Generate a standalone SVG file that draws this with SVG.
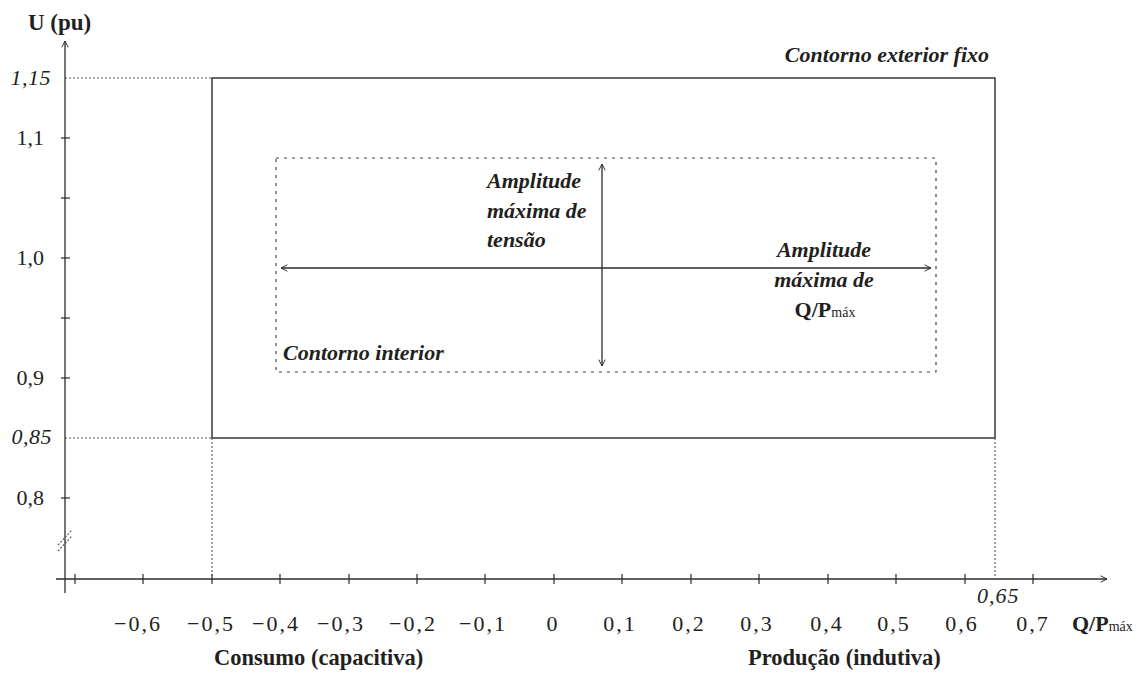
<svg xmlns="http://www.w3.org/2000/svg" width="1143" height="675" viewBox="0 0 1143 675">
<defs>
<style>
.ax{stroke:#2b2b2b;stroke-width:1.3;fill:none}
.tk{stroke:#2b2b2b;stroke-width:1.2}
.ol{stroke:#2b2b2b;stroke-width:1.4;fill:none}
.dot{stroke:#555;stroke-width:1.1;stroke-dasharray:2 2;fill:none}
.inr{stroke:#444;stroke-width:1.2;stroke-dasharray:3 5;fill:none}
.arr{stroke:#2b2b2b;stroke-width:1.3;fill:none}
.t{font-family:"Liberation Serif",serif;fill:#231f20}
.yl{font-size:22px}
.yi{font-size:22px;font-style:italic;letter-spacing:0.5px}
.xl{font-size:22px;letter-spacing:2px;text-anchor:middle}
.b{font-weight:bold}
.bi{font-weight:bold;font-style:italic;font-size:22px}
</style>
<marker id="ah" viewBox="0 0 10 10" refX="9" refY="5" markerWidth="8" markerHeight="8" orient="auto-start-reverse" markerUnits="userSpaceOnUse">
<path d="M1,1 L9,5 L1,9" stroke="#2b2b2b" stroke-width="1.2" fill="none"/>
</marker>
</defs>
<rect width="1143" height="675" fill="#fff"/>

<g id="axes">
<line class="ax" x1="65" y1="593" x2="65" y2="41" marker-end="url(#ah)"/>
<line class="ax" x1="56" y1="579" x2="1107" y2="579" marker-end="url(#ah)"/>
<g class="tk">
<line x1="61" y1="138" x2="70" y2="138"/>
<line x1="61" y1="198" x2="70" y2="198"/>
<line x1="61" y1="258" x2="70" y2="258"/>
<line x1="61" y1="318" x2="70" y2="318"/>
<line x1="61" y1="378" x2="70" y2="378"/>
<line x1="61" y1="498" x2="70" y2="498"/>
<line x1="75" y1="574" x2="75" y2="584"/>
<line x1="143" y1="574" x2="143" y2="584"/>
<line x1="212" y1="574" x2="212" y2="584"/>
<line x1="280" y1="574" x2="280" y2="584"/>
<line x1="349" y1="574" x2="349" y2="584"/>
<line x1="417" y1="574" x2="417" y2="584"/>
<line x1="485" y1="574" x2="485" y2="584"/>
<line x1="554" y1="574" x2="554" y2="584"/>
<line x1="622" y1="574" x2="622" y2="584"/>
<line x1="691" y1="574" x2="691" y2="584"/>
<line x1="759" y1="574" x2="759" y2="584"/>
<line x1="828" y1="574" x2="828" y2="584"/>
<line x1="896" y1="574" x2="896" y2="584"/>
<line x1="965" y1="574" x2="965" y2="584"/>
<line x1="1033" y1="574" x2="1033" y2="584"/>
</g>
<g stroke="#555" stroke-width="1.1" stroke-dasharray="2 1.5">
<line x1="58" y1="545" x2="72" y2="530"/>
<line x1="58" y1="551" x2="72" y2="536"/>
</g>
</g>

<g id="outer-contour">
<rect class="ol" x="212" y="78" width="783" height="360"/>
<line class="dot" x1="65" y1="78" x2="212" y2="78"/>
<line class="dot" x1="65" y1="438" x2="212" y2="438"/>
<line class="dot" x1="212" y1="438" x2="212" y2="579"/>
<line class="dot" x1="995" y1="438" x2="995" y2="579"/>
<text class="t bi" x="989" y="62" text-anchor="end">Contorno exterior fixo</text>
</g>

<g id="inner-contour">
<rect class="inr" x="276" y="158" width="660" height="214"/>
<text class="t bi" x="283" y="360">Contorno interior</text>
</g>

<g id="connectors">
<line class="arr" x1="281" y1="268" x2="931" y2="268" marker-start="url(#ah)" marker-end="url(#ah)"/>
<line class="arr" x1="602" y1="164" x2="602" y2="366" marker-start="url(#ah)" marker-end="url(#ah)"/>
</g>

<g id="label-voltage">
<text class="t bi" x="487" y="188">Amplitude</text>
<text class="t bi" x="487" y="218">máxima de</text>
<text class="t bi" x="487" y="247">tensão</text>
</g>

<g id="label-q">
<text class="t bi" x="824" y="257" text-anchor="middle">Amplitude</text>
<text class="t bi" x="824" y="287" text-anchor="middle">máxima de</text>
<text class="t" x="825" y="317" text-anchor="middle"><tspan class="b" font-size="22">Q/P</tspan><tspan font-size="14">máx</tspan></text>
</g>

<g id="y-labels">
<text class="t b" x="28" y="30" font-size="23">U (pu)</text>
<text class="t yi" x="51" y="85" text-anchor="end">1,15</text>
<text class="t yl" x="44" y="145" text-anchor="end">1,1</text>
<text class="t yl" x="44" y="265" text-anchor="end">1,0</text>
<text class="t yl" x="44" y="385" text-anchor="end">0,9</text>
<text class="t yi" x="52" y="444" text-anchor="end">0,85</text>
<text class="t yl" x="44" y="505" text-anchor="end">0,8</text>
</g>

<g id="x-labels">
<text class="t xl" x="138" y="631">−0,6</text>
<text class="t xl" x="211" y="631">−0,5</text>
<text class="t xl" x="276" y="631">−0,4</text>
<text class="t xl" x="341" y="631">−0,3</text>
<text class="t xl" x="413" y="631">−0,2</text>
<text class="t xl" x="483" y="631">−0,1</text>
<text class="t xl" x="553" y="631">0</text>
<text class="t xl" x="620" y="631">0,1</text>
<text class="t xl" x="689" y="631">0,2</text>
<text class="t xl" x="757" y="631">0,3</text>
<text class="t xl" x="827" y="631">0,4</text>
<text class="t xl" x="894" y="631">0,5</text>
<text class="t xl" x="962" y="631">0,6</text>
<text class="t xl" x="1033" y="631">0,7</text>
<text class="t" x="977" y="603" font-size="22" font-style="italic" letter-spacing="1">0,65</text>
<text class="t" x="1072" y="631"><tspan class="b" font-size="22">Q/P</tspan><tspan font-size="14">máx</tspan></text>
<text class="t b" x="214" y="665" font-size="22.5">Consumo (capacitiva)</text>
<text class="t b" x="748" y="665" font-size="22.5">Produção (indutiva)</text>
</g>
</svg>
